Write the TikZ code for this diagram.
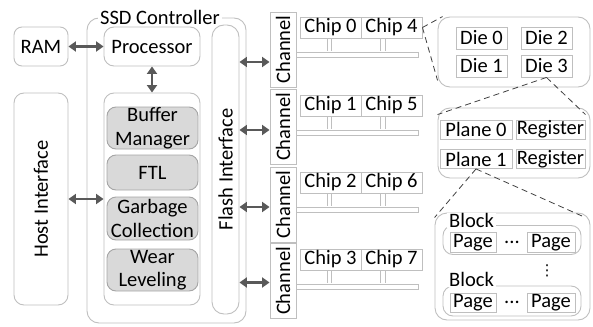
\documentclass[tikz,border=0pt]{standalone}
\usepackage{fontspec}
\setmainfont{Carlito}
\newfontfamily\symfont{DejaVu Sans}
\usetikzlibrary{arrows.meta}
\definecolor{boxgray}{RGB}{191,191,191}
\definecolor{modgray}{RGB}{165,165,165}
\definecolor{modfill}{RGB}{217,217,217}
\definecolor{arrowgray}{RGB}{89,89,89}
\definecolor{zoomgray}{RGB}{64,64,64}

\begin{document}
\begin{tikzpicture}[x=1pt, y=-1pt, font=\fontsize{20.5}{23.5}\selectfont]
	\tikzstyle{boxStyle} = [draw=boxgray, line width=0.9pt, rounded corners=8pt, inner sep=0pt]
	\tikzstyle{cellStyle} = [draw=boxgray, line width=0.9pt, inner sep=0pt]
	\tikzstyle{moduleStyle} = [draw=modgray, fill=modfill, line width=0.9pt, rounded corners=9pt, minimum width=91, inner sep=0pt, align=center]
	\tikzstyle{busStyle} = [draw=boxgray, line width=0.9pt, minimum width=122, minimum height=5, inner sep=0pt]
	\tikzstyle{linkStyle} = [draw=boxgray, double=white, double distance=3.6pt, line width=0.9pt, shorten <=0.45pt, shorten >=0.45pt]
	\tikzstyle{dblArrow} = [draw=arrowgray, line width=2.8pt, {Triangle[length=7.5pt,width=10pt]}-{Triangle[length=7.5pt,width=10pt]}]
	\tikzstyle{zoomStyle} = [draw=zoomgray, line width=0.8pt, dash pattern=on 6pt off 4pt]
	\tikzstyle{tagStyle} = [fill=white, inner sep=2pt]
	\useasboundingbox (0,0) rectangle (593,326);
	% controller side
	\node[boxStyle, minimum width=54, minimum height=39] (ram) at (41,46.5) {RAM};
	\node[boxStyle, rounded corners=12pt, minimum width=159, minimum height=305] (ssd) at (166.5,170.5) {};
	\node[tagStyle] (ssdTitle) at ([xshift=-6.5pt]ssd.north) {SSD Controller};
	\node[boxStyle, rounded corners=10pt, minimum width=96, minimum height=39] (proc) at (152,46.5) {Processor};
	\node[boxStyle, rounded corners=10pt, minimum width=96, minimum height=212] (modules) at (152,199) {};
	\node[moduleStyle, minimum height=42] (buf) at (152.5,128) {Buffer\\Manager};
	\node[moduleStyle, minimum height=35] (ftl) at (152.5,172.5) {FTL};
	\node[moduleStyle, minimum height=43] (gc) at (152.5,218.5) {Garbage\\Collection};
	\node[moduleStyle, minimum height=42] (wl) at (152.5,270) {Wear\\Leveling};
	\node[boxStyle, rounded corners=10pt, minimum width=54, minimum height=212] (host) at (41,199) {};
	\node[rotate=90] (hostText) at (host) {Host Interface};
	\node[boxStyle, rounded corners=12pt, minimum width=27, minimum height=289] (flash) at (225.5,169.5) {};
	\node[rotate=90] (flashText) at (flash) {Flash Interface};
	\draw[dblArrow] (ram) -- (proc);
	\draw[dblArrow] (proc) -- (modules);
	\draw[dblArrow] (host) -- (modules);
	% channels and chips
	\foreach \i/\cy/\ay/\yc in {0/49.5/-12.5/27.5, 1/127/-3/105.5, 2/204.5/-2.5/182.5, 3/281/-1.5/259.5} {
		\pgfmathtruncatemacro{\j}{\i+4}
		\node[cellStyle, minimum width=26, minimum height=75] (ch\i) at (283,\cy) {};
		\node[rotate=90] (chText\i) at (ch\i) {Channel};
		\draw[dblArrow] ([yshift=\ay pt]ch\i.west -| flash.east) -- ([yshift=\ay pt]ch\i.west);
		\node[cellStyle, minimum width=61, minimum height=21] (chipA\i) at (330.5,\yc) {Chip \i};
		\node[cellStyle, minimum width=61, minimum height=21] (chipB\i) at (391.5,\yc) {Chip \j};
		\node[busStyle, anchor=west] (bus\i) at ([yshift=-27pt]chipA\i.center -| ch\i.east) {};
		\draw[linkStyle] ([xshift=-1pt]chipA\i.south) -- ([xshift=-1pt]chipA\i.south |- bus\i.north);
		\draw[linkStyle] ([xshift=-8.5pt]chipB\i.south) -- ([xshift=-8.5pt]chipB\i.south |- bus\i.north);
	}
	% dies
	\node[boxStyle, rounded corners=12pt, minimum width=152, minimum height=70] (dieBox) at (514,52) {};
	\node[cellStyle, minimum width=51, minimum height=22] (die0) at (481.5,38) {Die 0};
	\node[cellStyle, minimum width=51, minimum height=22] (die1) at (481.5,66) {Die 1};
	\node[cellStyle, minimum width=51, minimum height=22] (die2) at (546.5,38) {Die 2};
	\node[cellStyle, minimum width=51, minimum height=22] (die3) at (546.5,66) {Die 3};
	% planes
	\node[boxStyle, rounded corners=12pt, minimum width=152, minimum height=70] (planeBox) at (514,143) {};
	\node[cellStyle, minimum width=72, minimum height=19] (plane0) at (476,129.5) {Plane 0};
	\node[cellStyle, minimum width=69, minimum height=19] (reg0) at (550.5,129.5) {Register};
	\node[cellStyle, minimum width=72, minimum height=19] (plane1) at (476,159) {Plane 1};
	\node[cellStyle, minimum width=69, minimum height=19] (reg1) at (550.5,159) {Register};
	% blocks
	\node[boxStyle, rounded corners=12pt, minimum width=155, minimum height=107] (blockBox) at (512.5,266.5) {};
	\node[boxStyle, rounded corners=10pt, minimum width=138, minimum height=29] (blk1) at (512,240) {};
	\node[tagStyle, inner xsep=2pt, inner ysep=0pt] (blk1Title) at ([xshift=29pt,yshift=4.5pt]blk1.north west) {Block};
	\node[cellStyle, minimum width=46, minimum height=20] (page1a) at (473,242.5) {Page};
	\node (dots1) at (512,242.5) {...};
	\node[cellStyle, minimum width=48, minimum height=20] (page1b) at (551,242.5) {Page};
	\node[inner sep=0pt, font=\symfont\fontsize{15}{15}\selectfont] (vdots) at (547,270.5) {⋮};
	\node[boxStyle, rounded corners=10pt, minimum width=138, minimum height=30] (blk2) at (512,301) {};
	\node[tagStyle, inner xsep=2pt, inner ysep=0pt] (blk2Title) at ([xshift=29pt,yshift=6pt]blk2.north west) {Block};
	\node[cellStyle, minimum width=46, minimum height=19] (page2a) at (473,302.5) {Page};
	\node (dots2) at (512,302.5) {...};
	\node[cellStyle, minimum width=48, minimum height=19] (page2b) at (551,302.5) {Page};
	% zoom lines
	\draw[zoomStyle] (chipB0.east) -- ([xshift=5pt]dieBox.north west);
	\draw[zoomStyle] (chipB0.east) -- ([yshift=7pt]dieBox.south west);
	\draw[zoomStyle] (die3.south) -- ([yshift=-7pt]planeBox.north west);
	\draw[zoomStyle] (die3.south) -- ([xshift=-5pt,yshift=-7pt]planeBox.north east);
	\draw[zoomStyle] (plane1.south) -- ([yshift=-5pt]blockBox.north west);
	\draw[zoomStyle] (plane1.south) -- ([xshift=-5pt,yshift=-5pt]blockBox.north east);
\end{tikzpicture}
\end{document}
